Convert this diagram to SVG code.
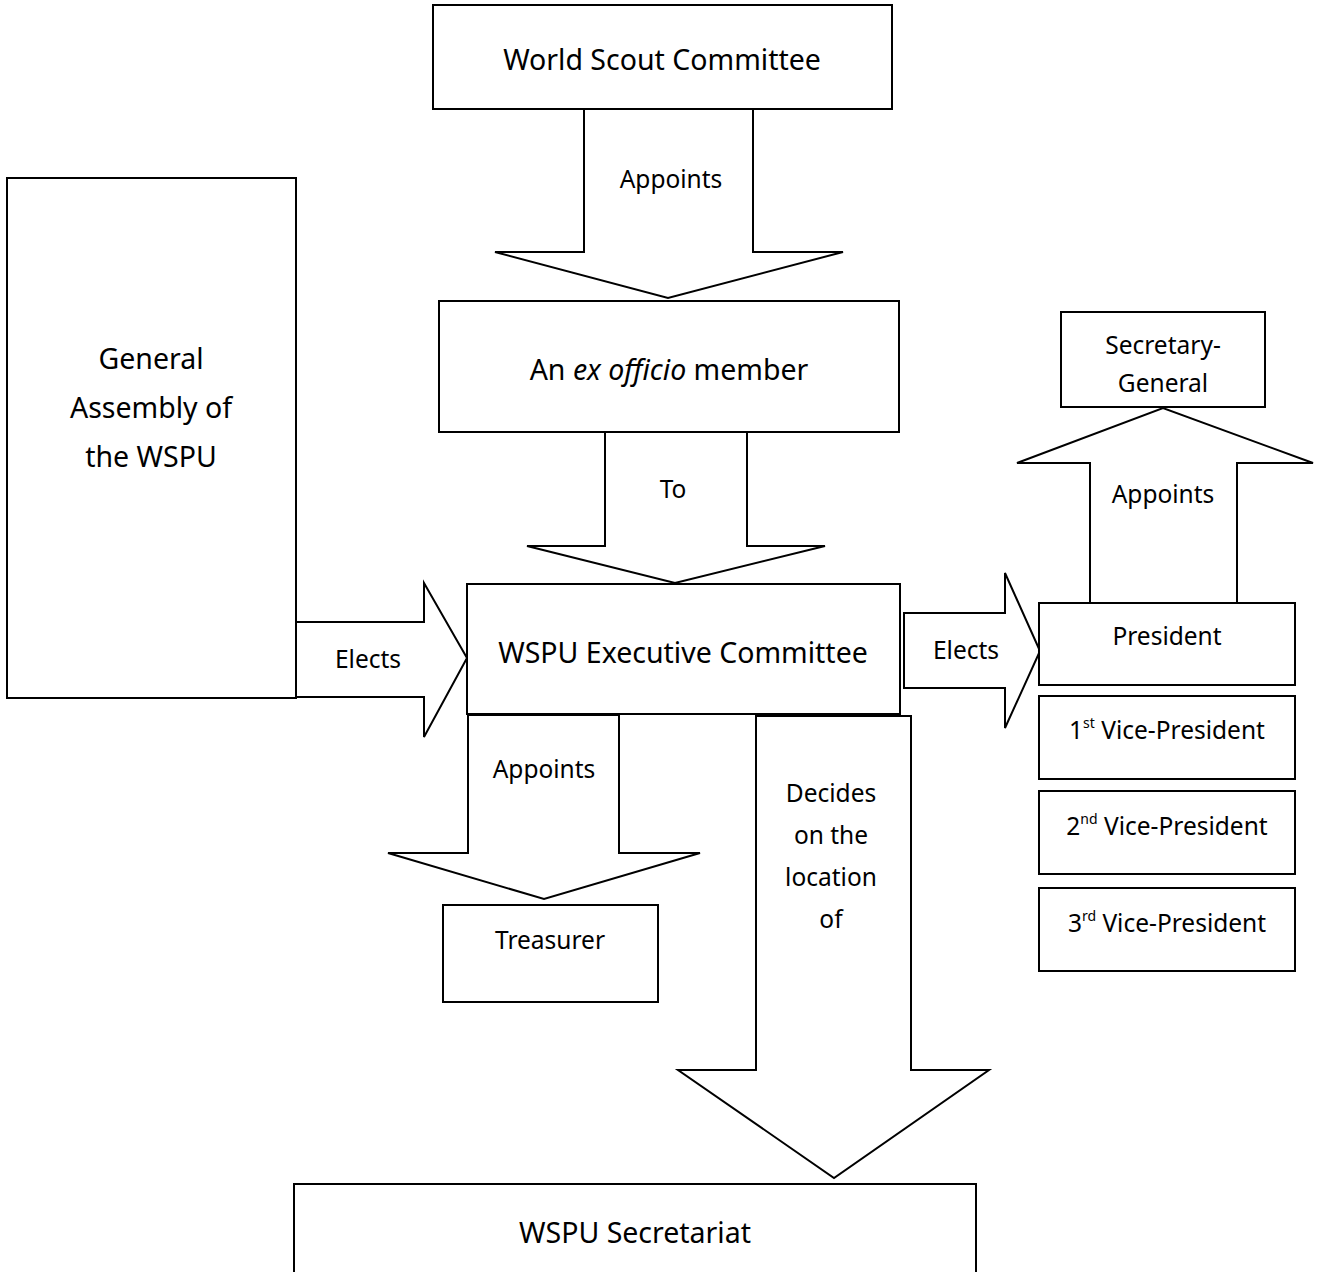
<svg xmlns="http://www.w3.org/2000/svg" width="1322" height="1272" viewBox="0 0 1322 1272">
<style>
.box{fill:#fff;stroke:#000;stroke-width:2}
.arr{fill:#fff;stroke:#000;stroke-width:2;stroke-linejoin:miter}
text{font-family:"Noto Sans","DejaVu Sans",sans-serif;fill:#000;text-anchor:middle}
.lg{font-size:28.5px}
.sm{font-size:24.5px}
.sup{font-size:14px}
</style>
<rect width="1322" height="1272" fill="#fff"/>
<g id="connectors">
<polygon class="arr" points="584,109 753,109 753,252 843,252 668,298 495,252 584,252"/>
<text class="sm" x="671" y="188">Appoints</text>
<polygon class="arr" points="605,432 747,432 747,546 825,546 675,583 527,546 605,546"/>
<text class="sm" x="673" y="498">To</text>
<polygon class="arr" points="296,622 424,622 424,583 467,658 424,737 424,697 296,697"/>
<text class="sm" x="368" y="668">Elects</text>
<polygon class="arr" points="904,613 1005,613 1005,573 1040,651 1005,728 1005,688 904,688"/>
<text class="sm" x="966" y="659">Elects</text>
<polygon class="arr" points="1090,603 1090,463 1017,463 1163,408 1313,463 1237,463 1237,603"/>
<text class="sm" x="1163" y="503">Appoints</text>
<polygon class="arr" points="468,715 619,715 619,853 700,853 544,899 388,853 468,853"/>
<text class="sm" x="544" y="778">Appoints</text>
<polygon class="arr" points="756,716 911,716 911,1070 989,1070 834,1178 678,1070 756,1070"/>
<text class="sm" x="831" y="802">Decides</text>
<text class="sm" x="831" y="844">on the</text>
<text class="sm" x="831" y="886">location</text>
<text class="sm" x="831" y="928">of</text>
</g>
<g id="world-scout-committee">
<rect class="box" x="433" y="5" width="459" height="104"/>
<text class="lg" x="662" y="70">World Scout Committee</text>
</g>
<g id="ex-officio-member">
<rect class="box" x="439" y="301" width="460" height="131"/>
<text class="lg" x="669" y="380">An <tspan font-style="italic">ex officio</tspan> member</text>
</g>
<g id="general-assembly">
<rect class="box" x="7" y="178" width="289" height="520"/>
<text class="lg" x="151" y="369">General</text>
<text class="lg" x="151" y="418">Assembly of</text>
<text class="lg" x="151" y="467">the WSPU</text>
</g>
<g id="executive-committee">
<rect class="box" x="467" y="584" width="433" height="130"/>
<text class="lg" x="683" y="663">WSPU Executive Committee</text>
</g>
<g id="secretary-general">
<rect class="box" x="1061" y="312" width="204" height="95"/>
<text class="sm" x="1163" y="354">Secretary-</text>
<text class="sm" x="1163" y="392">General</text>
</g>
<g id="president">
<rect class="box" x="1039" y="603" width="256" height="82"/>
<text class="sm" x="1167" y="645">President</text>
</g>
<g id="vp1">
<rect class="box" x="1039" y="696" width="256" height="83"/>
<text class="sm" x="1167" y="739">1<tspan class="sup" dy="-11">st</tspan><tspan dy="11"> Vice-President</tspan></text>
</g>
<g id="vp2">
<rect class="box" x="1039" y="791" width="256" height="83"/>
<text class="sm" x="1167" y="835">2<tspan class="sup" dy="-11">nd</tspan><tspan dy="11"> Vice-President</tspan></text>
</g>
<g id="vp3">
<rect class="box" x="1039" y="888" width="256" height="83"/>
<text class="sm" x="1167" y="932">3<tspan class="sup" dy="-11">rd</tspan><tspan dy="11"> Vice-President</tspan></text>
</g>
<g id="treasurer">
<rect class="box" x="443" y="905" width="215" height="97"/>
<text class="sm" x="550" y="949">Treasurer</text>
</g>
<g id="secretariat">
<rect class="box" x="294" y="1184" width="682" height="100"/>
<text class="lg" x="635" y="1243">WSPU Secretariat</text>
</g>
</svg>
